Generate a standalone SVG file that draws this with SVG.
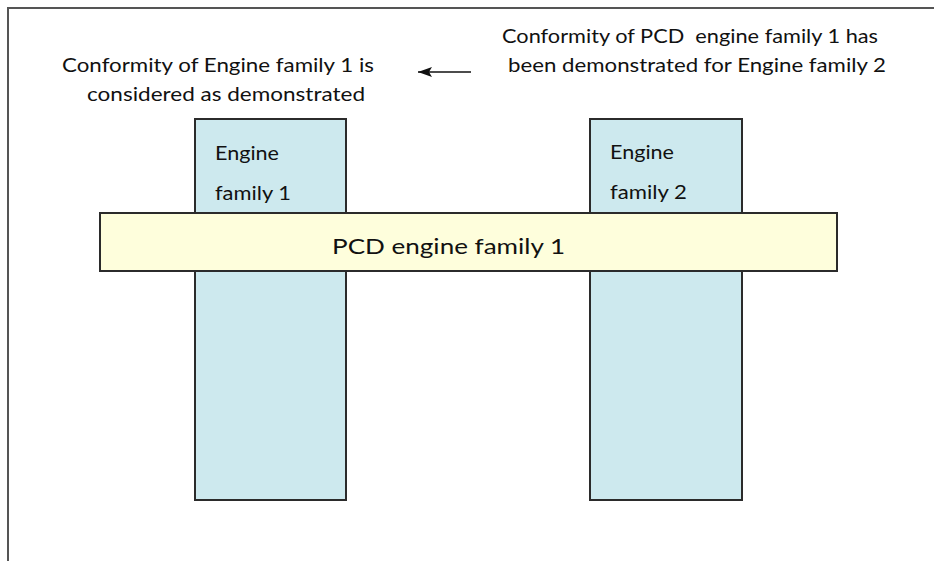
<svg xmlns="http://www.w3.org/2000/svg" width="934" height="561" viewBox="0 0 934 561">
<defs>
<style>
.t{font-family:Lato,"Open Sans","Liberation Sans",sans-serif;fill:#111;white-space:pre}
.top{font-size:20px}
.box{font-size:19.5px}
.fam{fill:#cde9ee;stroke:#2b2b2b;stroke-width:2}
.pcd{fill:#fefedc;stroke:#2b2b2b;stroke-width:2}
</style>
<marker id="ah" viewBox="0 0 14 10" refX="14" refY="5" markerWidth="14" markerHeight="10" markerUnits="userSpaceOnUse" orient="auto">
<path d="M0,0 L14,5 L0,10 L3,5 z" fill="#111"/>
</marker>
</defs>
<rect width="934" height="561" fill="#fff"/>
<path d="M8,561 L8,8 L934,8" fill="none" stroke="#555" stroke-width="2"/>
<g id="family1">
<rect class="fam" x="195" y="119" width="151" height="381"/>
<text class="t box" x="215" y="160" textLength="64" lengthAdjust="spacingAndGlyphs">Engine</text>
<text class="t box" x="215" y="200" textLength="76" lengthAdjust="spacingAndGlyphs">family 1</text>
</g>
<g id="family2">
<rect class="fam" x="590" y="119" width="152" height="381"/>
<text class="t box" x="610" y="159" textLength="64" lengthAdjust="spacingAndGlyphs">Engine</text>
<text class="t box" x="610" y="199" textLength="77" lengthAdjust="spacingAndGlyphs">family 2</text>
</g>
<g id="pcd">
<rect class="pcd" x="100" y="213" width="737" height="58"/>
<text class="t" style="font-size:22px" x="332" y="254" textLength="233" lengthAdjust="spacingAndGlyphs">PCD engine family 1</text>
</g>
<g id="labels">
<text class="t top" x="62" y="72" textLength="312" lengthAdjust="spacingAndGlyphs">Conformity of Engine family 1 is</text>
<text class="t top" x="87" y="101" textLength="278" lengthAdjust="spacingAndGlyphs">considered as demonstrated</text>
<text class="t top" x="502" y="43" textLength="376" lengthAdjust="spacingAndGlyphs">Conformity of PCD  engine family 1 has</text>
<text class="t top" x="508" y="72" textLength="378" lengthAdjust="spacingAndGlyphs">been demonstrated for Engine family 2</text>
</g>
<g id="connectors">
<line x1="471" y1="72" x2="418" y2="72" stroke="#111" stroke-width="1.6" marker-end="url(#ah)"/>
</g>
</svg>
